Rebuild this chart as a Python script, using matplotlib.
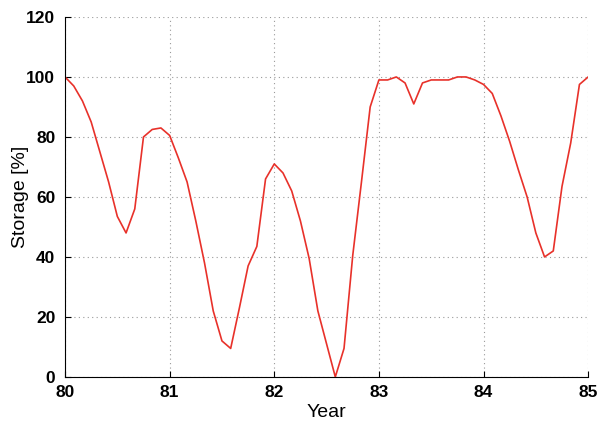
import numpy as np
import matplotlib.pyplot as plt

plt.rcParams['font.family'] = ['Liberation Sans', 'DejaVu Sans']

# monthly storage level, Jan 1980 .. Jan 1985
year_start = 80
storage = [100, 97, 92, 85, 75, 65, 53.5, 48, 56, 80, 82.5, 83,
           80.5, 73, 65, 52, 38, 22, 12, 9.5, 23, 37, 43.5, 66,
           71, 68, 62, 52, 39.5, 22, 11, 0, 9.5, 40.5, 65, 90,
           99, 99, 100, 98, 91, 98, 99, 99, 99, 100, 100, 99,
           97.5, 94.5, 87, 78.5, 69, 60, 48, 40, 42, 63.5, 78, 97.5,
           100]
years = year_start + np.arange(len(storage)) / 12

fig = plt.figure(figsize=(6.02, 4.24), dpi=100)
ax = fig.add_axes([0.108, 0.111, 0.869, 0.849])
ax.plot(years, storage, color='#e8312a', linewidth=1.2)

ax.set_xlim(80, 85)
ax.set_ylim(0, 120)
ax.set_xticks(range(80, 86))
ax.set_yticks(range(0, 121, 20))
ax.grid(True, linestyle=(0, (1, 3)), color='#999999', linewidth=0.8)
ax.spines['top'].set_visible(False)
ax.spines['right'].set_visible(False)
ax.tick_params(direction='in', length=4, labelsize=12.5)
ax.tick_params(axis='x', pad=6)
ax.tick_params(axis='y', pad=7)
for lbl in ax.get_xticklabels() + ax.get_yticklabels():
    lbl.set_fontweight('bold')
ax.set_xlabel('Year', fontsize=14, labelpad=3)
ax.set_ylabel('Storage [%]', fontsize=14, labelpad=-2)

fig.savefig('out.png', dpi=100)
